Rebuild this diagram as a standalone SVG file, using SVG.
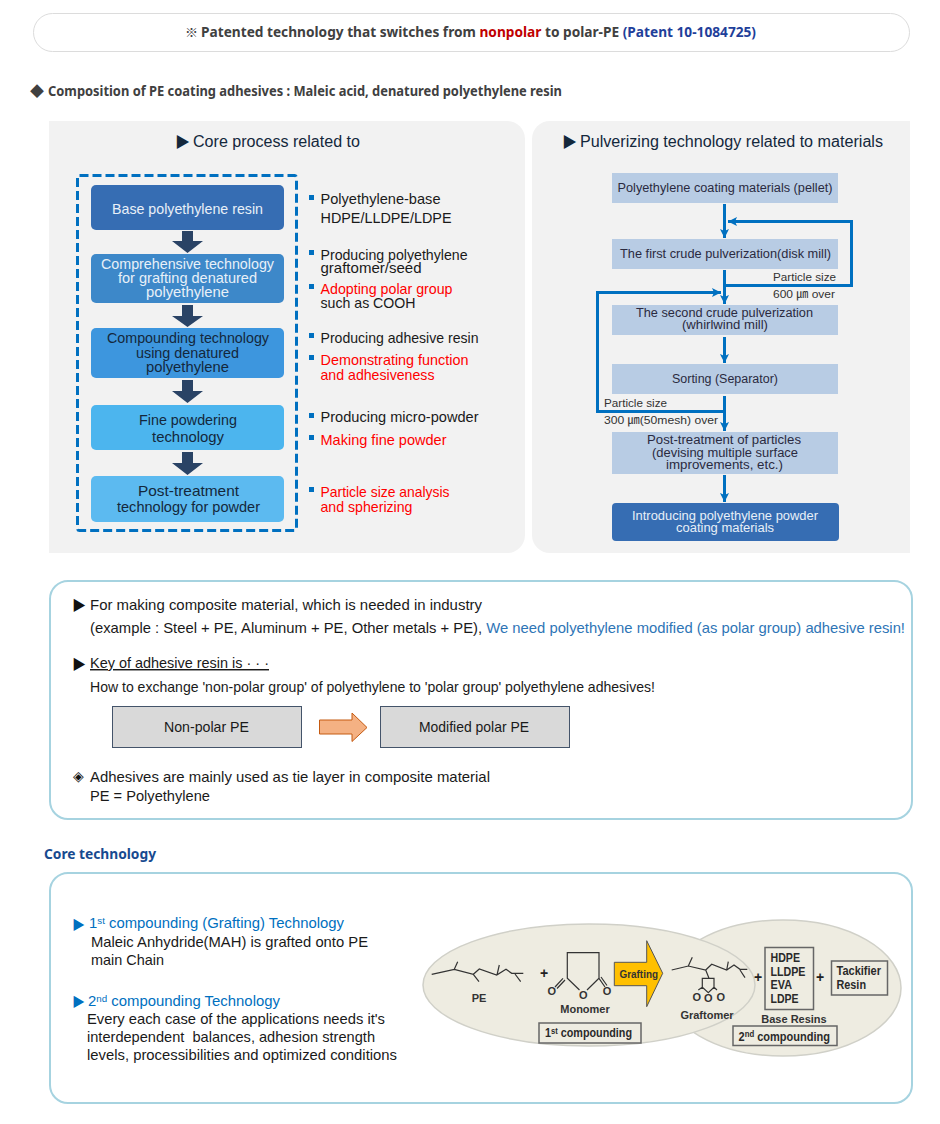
<svg xmlns="http://www.w3.org/2000/svg" width="940" height="1124" viewBox="0 0 940 1124">
<style>
text{font-family:"Liberation Sans","Noto Sans CJK KR",sans-serif;white-space:pre}
.h{font-family:"Noto Sans","Noto Sans CJK KR",sans-serif;font-weight:700;font-size:14px;fill:#404040}
.t{font-size:14.5px;fill:#1a1a1a}
.w{font-size:14.5px;fill:#e8f0f8}
.d{font-size:14.5px;fill:#14283c}
.r{font-size:14.5px;fill:#ff0000}
.b{font-size:14.5px;fill:#0070c0}
.s{font-size:12.5px;fill:#2a2a40}
.l{font-size:11.5px;fill:#333}
.c{font-size:11px;font-weight:700;fill:#333}
.k{font-size:12px;font-weight:700;fill:#2a2a2a}
.g{font-family:"Noto Sans CJK KR",sans-serif}
.panel{fill:#fff;stroke:#a6d3e0;stroke-width:2}
.bx{fill:#b8cce4}
.bullet{fill:#0070c0}
.down{fill:#2a4365}
.conn{fill:none;stroke:#0070c0;stroke-width:3}
.mol{fill:none;stroke:#333;stroke-width:1.2}
.ell{fill:#eeece1;stroke:#d0d0c8;stroke-width:1.5}
.kb{fill:#eeece1;stroke:#666;stroke-width:1.5}
.grey{fill:#d9d9d9;stroke:#44546a;stroke-width:1}
</style>
<defs>
<marker id="ah" markerUnits="userSpaceOnUse" markerWidth="10" markerHeight="10" refX="9" refY="5" orient="auto"><path d="M0 .5L9 5L0 9.5L2 5Z" fill="#0070c0"/></marker>
</defs>
<rect width="940" height="1124" fill="#fff"/>

<g id="patent-banner">
<rect x="33.500" y="13.500" width="876" height="38" rx="19" fill="#fff" stroke="#dcdcdc" stroke-width="1"/>
<text class="g" x="185" y="37" font-size="13" fill="#404040">※</text>
<text class="h" x="201" y="36.500" textLength="555" lengthAdjust="spacingAndGlyphs">Patented technology that switches from <tspan fill="#c00000">nonpolar</tspan> to polar-PE <tspan fill="#1f3f9a">(Patent 10-1084725)</tspan></text>
</g>
<g id="composition-heading">
<text class="g" x="30" y="96" font-size="14" fill="#404040">◆</text>
<text class="h" x="48" y="95.500" textLength="514" lengthAdjust="spacingAndGlyphs">Composition of PE coating adhesives : Maleic acid, denatured polyethylene resin</text>
</g>

<g id="panel-core">
<path d="M49 121H507a18 18 0 0 1 18 18V535a18 18 0 0 1-18 18H49Z" fill="#f2f2f2"/>
<text class="g" x="175" y="147" font-size="15" fill="#14283c">▶</text>
<text x="193" y="147" font-size="16" fill="#14283c" textLength="167" lengthAdjust="spacingAndGlyphs">Core process related to</text>
<rect x="77.500" y="175.500" width="219" height="355" rx="2" fill="none" stroke="#0070c0" stroke-width="3" stroke-dasharray="9 4"/>
</g>
<g id="core-base">
<rect x="91" y="185" width="193" height="45" rx="5" fill="#366db3"/>
<text class="w" x="112" y="213.500" textLength="151" lengthAdjust="spacingAndGlyphs">Base polyethylene resin</text>
</g>
<g id="core-grafting">
<rect x="91" y="254" width="193" height="49" rx="5" fill="#3d88c9"/>
<text class="w" x="101" y="268.500" textLength="173" lengthAdjust="spacingAndGlyphs">Comprehensive technology</text>
<text class="w" x="118" y="282.500" textLength="139" lengthAdjust="spacingAndGlyphs">for grafting denatured</text>
<text class="w" x="146" y="296.500" textLength="83" lengthAdjust="spacingAndGlyphs">polyethylene</text>
</g>
<g id="core-compounding">
<rect x="91" y="328" width="193" height="50" rx="5" fill="#3d96de"/>
<text class="d" x="107" y="343" textLength="162" lengthAdjust="spacingAndGlyphs">Compounding technology</text>
<text class="d" x="136" y="357.500" textLength="103" lengthAdjust="spacingAndGlyphs">using denatured</text>
<text class="d" x="146" y="371.500" textLength="83" lengthAdjust="spacingAndGlyphs">polyethylene</text>
</g>
<g id="core-fine">
<rect x="91" y="405" width="193" height="45" rx="5" fill="#4cb5ee"/>
<text class="d" x="139" y="425" textLength="98" lengthAdjust="spacingAndGlyphs">Fine powdering</text>
<text class="d" x="152" y="441.500" textLength="72" lengthAdjust="spacingAndGlyphs">technology</text>
</g>
<g id="core-post">
<rect x="91" y="476" width="193" height="46" rx="5" fill="#5cbaf0"/>
<text class="d" x="138" y="495.500" textLength="101" lengthAdjust="spacingAndGlyphs">Post-treatment</text>
<text class="d" x="117" y="512" textLength="143" lengthAdjust="spacingAndGlyphs">technology for powder</text>
</g>
<g id="core-notes">
<rect class="bullet" x="309" y="195" width="5" height="5"/><text class="t" x="320.500" y="204" textLength="120" lengthAdjust="spacingAndGlyphs">Polyethylene-base</text>
<text class="t" x="320.500" y="222.500" textLength="131" lengthAdjust="spacingAndGlyphs">HDPE/LLDPE/LDPE</text>
<rect class="bullet" x="309" y="250" width="5" height="5"/><text class="t" x="320.500" y="259.500" textLength="147" lengthAdjust="spacingAndGlyphs">Producing polyethylene</text>
<text class="t" x="320.500" y="272.500" textLength="101" lengthAdjust="spacingAndGlyphs">graftomer/seed</text>
<rect class="bullet" x="309" y="284" width="5" height="5"/><text class="r" x="320.500" y="293.500" textLength="132" lengthAdjust="spacingAndGlyphs">Adopting polar group</text>
<text class="t" x="320.500" y="307.500" textLength="95" lengthAdjust="spacingAndGlyphs">such as COOH</text>
<rect class="bullet" x="309" y="333" width="5" height="5"/><text class="t" x="320.500" y="342.500" textLength="158" lengthAdjust="spacingAndGlyphs">Producing adhesive resin</text>
<rect class="bullet" x="309" y="355" width="5" height="5"/><text class="r" x="320.500" y="365" textLength="148" lengthAdjust="spacingAndGlyphs">Demonstrating function</text>
<text class="r" x="320.500" y="379.500" textLength="114" lengthAdjust="spacingAndGlyphs">and adhesiveness</text>
<rect class="bullet" x="309" y="413" width="5" height="5"/><text class="t" x="320.500" y="422" textLength="158" lengthAdjust="spacingAndGlyphs">Producing micro-powder</text>
<rect class="bullet" x="309" y="435" width="5" height="5"/><text class="r" x="320.500" y="444.500" textLength="126" lengthAdjust="spacingAndGlyphs">Making fine powder</text>
<rect class="bullet" x="309" y="487" width="5" height="5"/><text class="r" x="320.500" y="496.500" textLength="129" lengthAdjust="spacingAndGlyphs">Particle size analysis</text>
<text class="r" x="320.500" y="511.500" textLength="92" lengthAdjust="spacingAndGlyphs">and spherizing</text>
</g>

<g id="panel-pulverizing">
<path d="M910 121H550a18 18 0 0 0-18 18V535a18 18 0 0 0 18 18H910Z" fill="#f2f2f2"/>
<text class="g" x="562" y="147" font-size="15" fill="#14283c">▶</text>
<text x="580" y="147" font-size="16" fill="#14283c" textLength="303" lengthAdjust="spacingAndGlyphs">Pulverizing technology related to materials</text>
</g>
<g id="pv-pellet"><rect class="bx" x="612" y="173" width="226" height="30"/><text class="s" x="617.500" y="191.500" textLength="215" lengthAdjust="spacingAndGlyphs">Polyethylene coating materials (pellet)</text></g>
<g id="pv-first"><rect class="bx" x="612" y="239" width="226" height="30"/><text class="s" x="620" y="258" textLength="211" lengthAdjust="spacingAndGlyphs">The first crude pulverization(disk mill)</text></g>
<g id="pv-second"><rect class="bx" x="612" y="305" width="226" height="30"/><text class="s" x="636" y="317" textLength="177" lengthAdjust="spacingAndGlyphs">The second crude pulverization</text><text class="s" x="682" y="329" textLength="86" lengthAdjust="spacingAndGlyphs">(whirlwind mill)</text></g>
<g id="pv-sorting"><rect class="bx" x="612" y="364" width="226" height="30"/><text class="s" x="672" y="383" textLength="106" lengthAdjust="spacingAndGlyphs">Sorting (Separator)</text></g>
<g id="pv-post"><rect class="bx" x="612" y="432" width="226" height="42"/><text class="s" x="647" y="444" textLength="154" lengthAdjust="spacingAndGlyphs">Post-treatment of particles</text><text class="s" x="652" y="456.500" textLength="146" lengthAdjust="spacingAndGlyphs">(devising multiple surface</text><text class="s" x="666" y="469" textLength="117" lengthAdjust="spacingAndGlyphs">improvements, etc.)</text></g>
<g id="pv-final"><rect x="612" y="503" width="227" height="38" rx="4" fill="#366db3"/><text class="s" style="fill:#e8f0f8" x="632" y="519.500" textLength="186" lengthAdjust="spacingAndGlyphs">Introducing polyethylene powder</text><text class="s" style="fill:#e8f0f8" x="676" y="531.500" textLength="98" lengthAdjust="spacingAndGlyphs">coating materials</text></g>

<g id="pv-labels">
<text class="l" x="773" y="281" textLength="63" lengthAdjust="spacingAndGlyphs">Particle size</text>
<text class="l" x="773" y="298" textLength="62" lengthAdjust="spacingAndGlyphs">600 ㎛ over</text>
<text class="l" x="604" y="407" textLength="63" lengthAdjust="spacingAndGlyphs">Particle size</text>
<text class="l" x="604" y="424" textLength="114" lengthAdjust="spacingAndGlyphs">300 ㎛(50mesh) over</text>
</g>

<g id="panel-composite">
<rect class="panel" x="50" y="581" width="862" height="238" rx="18"/>
<text class="g" x="72" y="610" font-size="14" fill="#111">▶</text>
<text class="t" x="90" y="610" textLength="392" lengthAdjust="spacingAndGlyphs">For making composite material, which is needed in industry</text>
<text class="t" x="90" y="632.500" textLength="815" lengthAdjust="spacingAndGlyphs">(example : Steel + PE, Aluminum + PE, Other metals + PE), <tspan fill="#2e75b6">We need polyethylene modified (as polar group) adhesive resin!</tspan></text>
<text class="g" x="72" y="669" font-size="14" fill="#111">▶</text>
<text class="t" x="90" y="668" textLength="179" lengthAdjust="spacingAndGlyphs" text-decoration="underline">Key of adhesive resin is · · ·</text>
<text class="t" x="90" y="691.500" textLength="565" lengthAdjust="spacingAndGlyphs">How to exchange 'non-polar group' of polyethylene to 'polar group' polyethylene adhesives!</text>
<text class="g" x="73" y="781" font-size="14" fill="#111">◈</text>
<text class="t" x="90" y="781.500" textLength="400" lengthAdjust="spacingAndGlyphs">Adhesives are mainly used as tie layer in composite material</text>
<text class="t" x="90" y="801" textLength="120" lengthAdjust="spacingAndGlyphs">PE = Polyethylene</text>
</g>
<g id="non-polar-pe"><rect class="grey" x="112.500" y="706.500" width="189" height="41"/><text class="t" x="164" y="732" textLength="85" lengthAdjust="spacingAndGlyphs">Non-polar PE</text></g>
<g id="modified-polar-pe"><rect class="grey" x="380.500" y="706.500" width="189" height="41"/><text class="t" x="419" y="732" textLength="110" lengthAdjust="spacingAndGlyphs">Modified polar PE</text></g>

<g id="connectors">
<path class="down" d="M182 231H193V241H203L187.500 253L172 241H182Z"/>
<path class="down" d="M182 305H193V316H203L187.500 327L172 316H182Z"/>
<path class="down" d="M182 380H193V391H203L187.500 403L172 391H182Z"/>
<path class="down" d="M182 452H193V463H203L187.500 475L172 463H182Z"/>
<path class="conn" d="M724.500 204V238" marker-end="url(#ah)"/>
<path class="conn" d="M724.500 270V304" marker-end="url(#ah)"/>
<path class="conn" d="M724.500 337V363" marker-end="url(#ah)"/>
<path class="conn" d="M724.500 396V431" marker-end="url(#ah)"/>
<path class="conn" d="M724.500 475V502" marker-end="url(#ah)"/>
<path class="conn" d="M724.500 285.500H851.500V221.500H728" marker-end="url(#ah)"/>
<path class="conn" d="M724.500 411.500H597.500V292.500H721" marker-end="url(#ah)"/>
<path d="M319.500 720H352V713L367 727.500L352 741.500V734H319.500Z" fill="#f4b183" stroke="#c55a11" stroke-width="1"/>
</g>

<g id="core-technology-heading">
<text class="h" style="fill:#174a8f;font-size:14.5px" x="44" y="858.500" textLength="112" lengthAdjust="spacingAndGlyphs">Core technology</text>
</g>
<g id="panel-core-technology">
<rect class="panel" x="50" y="873" width="862" height="230" rx="18"/>
<text class="g" x="72" y="929" font-size="13" fill="#0070c0">▶</text>
<text class="b" x="89" y="928" textLength="255" lengthAdjust="spacingAndGlyphs">1<tspan font-size="9.500" dy="-4">st</tspan><tspan dy="4"> compounding (Grafting) Technology</tspan></text>
<text class="t" x="91" y="947" textLength="277" lengthAdjust="spacingAndGlyphs">Maleic Anhydride(MAH) is grafted onto PE</text>
<text class="t" x="91" y="965" textLength="73" lengthAdjust="spacingAndGlyphs">main Chain</text>
<text class="g" x="72" y="1006" font-size="13" fill="#0070c0">▶</text>
<text class="b" x="88" y="1005.500" textLength="192" lengthAdjust="spacingAndGlyphs">2<tspan font-size="9.500" dy="-4">nd</tspan><tspan dy="4"> compounding Technology</tspan></text>
<text class="t" x="87" y="1024" textLength="298" lengthAdjust="spacingAndGlyphs">Every each case of the applications needs it's</text>
<text class="t" x="87" y="1042" textLength="288" lengthAdjust="spacingAndGlyphs">interdependent  balances, adhesion strength</text>
<text class="t" x="87" y="1060" textLength="310" lengthAdjust="spacingAndGlyphs">levels, processibilities and optimized conditions</text>
</g>

<g id="second-compounding">
<ellipse class="ell" cx="783" cy="988" rx="118" ry="68"/>
</g>
<g id="first-compounding">
<ellipse class="ell" cx="589" cy="985" rx="166" ry="61"/>
<path class="mol" d="M431.700 974.300L454.300 969.300L473.300 974.300L479.300 969L496.700 975L506 969.300L511.700 973.300H523.300M454.300 969.300L457.700 961.700M473.300 974.300L479 981.700M497 975L499.300 965M515 974L520.700 981.700"/>
<text class="c" x="479" y="1002" text-anchor="middle">PE</text>
<text x="544" y="978" font-size="14" font-weight="700" fill="#222" text-anchor="middle">+</text>
<path class="mol" d="M579.500 990L567.300 978.300V952.700H599V978.300L587 990M563 978.300L555 987M565 980L557 988.500M599 978.300L605 987M601 977L607 985.500"/>
<text class="c" x="551.700" y="995" text-anchor="middle">O</text>
<text class="c" x="583.300" y="999" text-anchor="middle">O</text>
<text class="c" x="607" y="995" text-anchor="middle">O</text>
<text class="c" x="585" y="1013" text-anchor="middle">Monomer</text>
<rect class="kb" x="539" y="1023" width="102" height="20"/>
<text class="k" x="545" y="1037" textLength="87" lengthAdjust="spacingAndGlyphs">1<tspan font-size="8.500" dy="-3.500">st</tspan><tspan dy="3.500"> compounding</tspan></text>
<path d="M614.300 962.300H646.700V940.700L662.700 973.300L646.700 1006.700V985.700H614.300Z" fill="#ffc000" stroke="#555" stroke-width="1"/>
<text class="c" x="619.500" y="978" textLength="38.500" lengthAdjust="spacingAndGlyphs">Grafting</text>
<path class="mol" d="M671.700 970L688.300 966L705.700 970L711.700 964.300L726.700 970L734 965L740 969.300H747.300M688.300 966L692.300 957.300M726.700 970L728.300 961.700M740 970L745 977.700M705.700 970L709 978.300M702.300 978.300H714V987.300L708.300 992.700L702.300 987.300ZM702.300 987.300L698.300 990M714 987.300L717 990"/>
<text class="c" x="696.700" y="1000.500" text-anchor="middle">O</text>
<text class="c" x="708.300" y="1002" text-anchor="middle">O</text>
<text class="c" x="720.700" y="1000.500" text-anchor="middle">O</text>
<text class="c" x="707" y="1019" text-anchor="middle">Graftomer</text>
</g>
<g id="base-resins">
<text x="758" y="982" font-size="14" font-weight="700" fill="#222" text-anchor="middle">+</text>
<rect class="kb" x="765" y="947.500" width="48.500" height="62"/>
<text class="k" x="770.500" y="961.700" textLength="29.500" lengthAdjust="spacingAndGlyphs">HDPE</text>
<text class="k" x="770.500" y="975.700" textLength="35" lengthAdjust="spacingAndGlyphs">LLDPE</text>
<text class="k" x="770.500" y="989.300" textLength="21.500" lengthAdjust="spacingAndGlyphs">EVA</text>
<text class="k" x="770.500" y="1003.300" textLength="28" lengthAdjust="spacingAndGlyphs">LDPE</text>
<text class="c" x="794" y="1023" text-anchor="middle">Base Resins</text>
<text x="820" y="982" font-size="14" font-weight="700" fill="#222" text-anchor="middle">+</text>
</g>
<g id="tackifier-resin">
<rect class="kb" x="831.500" y="961" width="56" height="34"/>
<text class="k" x="836.500" y="975" textLength="44.500" lengthAdjust="spacingAndGlyphs">Tackifier</text>
<text class="k" x="836.500" y="989" textLength="29.500" lengthAdjust="spacingAndGlyphs">Resin</text>
</g>
<g id="second-compounding-label">
<rect class="kb" x="733" y="1026" width="104" height="19.500"/>
<text class="k" x="738.500" y="1040.500" textLength="91.500" lengthAdjust="spacingAndGlyphs">2<tspan font-size="8.500" dy="-3.500">nd</tspan><tspan dy="3.500"> compounding</tspan></text>
</g>
</svg>
